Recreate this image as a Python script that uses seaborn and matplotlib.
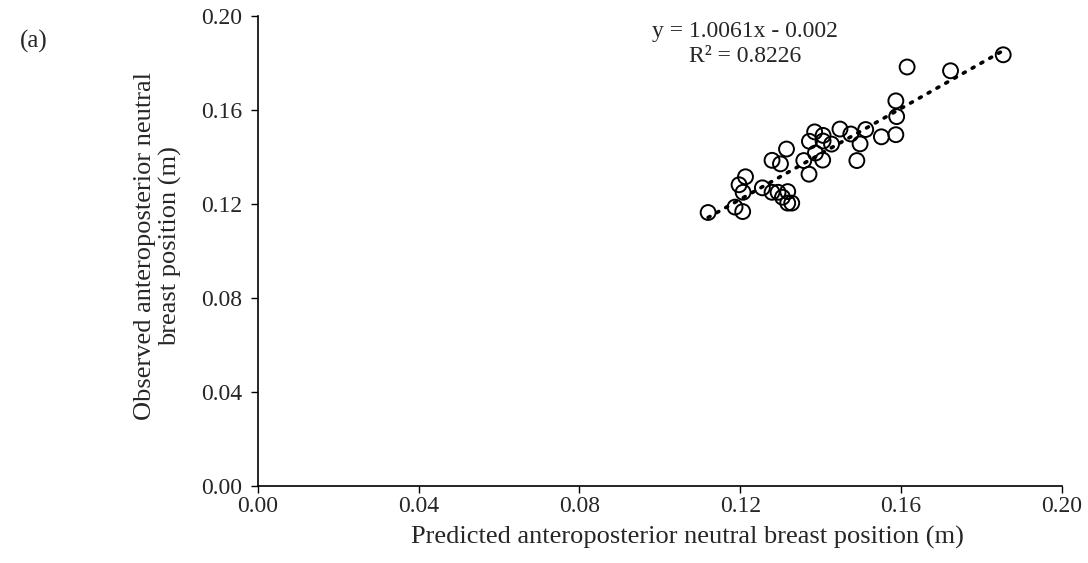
import seaborn as sns
import pandas as pd
import numpy as np
import matplotlib.pyplot as plt

# Predicted vs observed anteroposterior neutral breast position (m)
predicted = [0.1120, 0.1187, 0.1206, 0.1197, 0.1213, 0.1207, 0.1255, 0.1279,
             0.1294, 0.1305, 0.1318, 0.1318, 0.1328, 0.1279, 0.1300, 0.1315,
             0.1358, 0.1371, 0.1372, 0.1385, 0.1387, 0.1405, 0.1406, 0.1406,
             0.1427, 0.1448, 0.1475, 0.1498, 0.1490, 0.1512, 0.1551, 0.1587,
             0.1589, 0.1587, 0.1615, 0.1723, 0.1854]
observed = [0.1163, 0.1186, 0.1167, 0.1281, 0.1315, 0.1249, 0.1268, 0.1249,
            0.1249, 0.1228, 0.1252, 0.1203, 0.1203, 0.1385, 0.1370, 0.1433,
            0.1384, 0.1326, 0.1466, 0.1506, 0.1416, 0.1386, 0.1491, 0.1467,
            0.1454, 0.1518, 0.1497, 0.1455, 0.1384, 0.1516, 0.1485, 0.1494,
            0.1571, 0.1638, 0.1782, 0.1766, 0.1834]
ticks = [0.00, 0.04, 0.08, 0.12, 0.16, 0.20]
equation = 'y = 1.0061x - 0.002\nR² = 0.8226'

df = pd.DataFrame({'predicted': predicted, 'observed': observed})

sns.set_style('ticks')
plt.rcParams['font.family'] = ['Liberation Serif', 'DejaVu Serif']

fig = plt.figure(figsize=(10.88, 5.63), dpi=100)
ax = fig.add_axes([0.237, 0.137, 0.739, 0.835])

# Scatter with open circles
sns.scatterplot(data=df, x='predicted', y='observed', ax=ax, s=115,
                facecolor='none', edgecolor='black', linewidth=1.4, zorder=3)

# Linear trendline (dotted)
sns.regplot(data=df, x='predicted', y='observed', ax=ax, scatter=False, ci=None,
            truncate=True,
            line_kws={'color': 'black', 'linewidth': 2.6,
                      'linestyle': (0, (0.6, 2.2)), 'dash_capstyle': 'round',
                      'zorder': 2})

ax.set_xlim(0, 0.20)
ax.set_ylim(0, 0.20)
ax.set_xticks(ticks)
ax.set_yticks(ticks)
ax.set_xticklabels([f'{t:.2f}' for t in ticks], fontsize=17)
ax.set_yticklabels([f'{t:.2f}' for t in ticks], fontsize=17)
ax.tick_params(direction='out', length=5, width=1, color='black')
ax.tick_params(axis='x', pad=2)
ax.tick_params(axis='y', pad=6)
sns.despine(ax=ax)
for s in ['left', 'bottom']:
    ax.spines[s].set_linewidth(1.2)
    ax.spines[s].set_color('black')

ax.set_xlabel('Predicted anteroposterior neutral breast position (m)',
              fontsize=19)
ax.set_ylabel('Observed anteroposterior neutral\nbreast position (m)',
              fontsize=19)
ax.xaxis.set_label_coords(0.534, -0.085)
ax.yaxis.set_label_coords(-0.094, 0.51)

ax.text(0.606, 0.94, equation, transform=ax.transAxes, ha='center',
        va='center', fontsize=17, linespacing=1.3)
fig.text(0.018, 0.915, '(a)', fontsize=18)

fig.savefig('out.png', dpi=100)
